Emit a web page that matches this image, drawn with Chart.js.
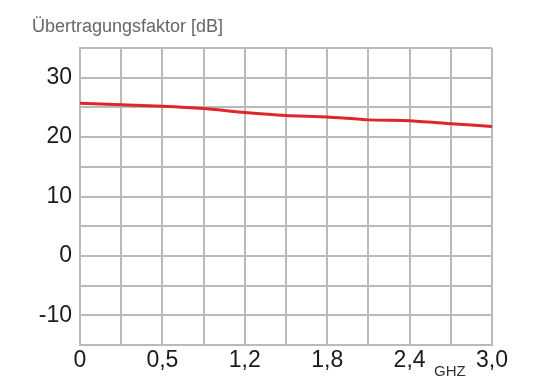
<!DOCTYPE html>
<html>
<head>
<meta charset="utf-8">
<script src="https://cdn.jsdelivr.net/npm/chart.js@4"></script>
<style>
  html, body { margin: 0; padding: 0; background: #fff; }
  #wrap { width: 550px; height: 378px; }
</style>
</head>
<body>
<div id="wrap"><canvas id="chart" width="550" height="378"></canvas></div>
<script>
// Frequenz in GHz (Gitter alle 0,3 GHz)
var freqGHz = [0, 0.3, 0.6, 0.9, 1.2, 1.5, 1.8, 2.1, 2.4, 2.7, 3.0];
// Übertragungsfaktor in dB
var gainDb = [25.7, 25.45, 25.2, 24.8, 24.15, 23.65, 23.4, 22.9, 22.75, 22.25, 21.8];
// Beschriftung der x-Achse (wie im Original)
var xTickValues = [0, 0.6, 1.2, 1.8, 2.4, 3.0];
var xTickLabels = ['0', '0,5', '1,2', '1,8', '2,4', '3,0'];
// Gitterlinien und Beschriftung der y-Achse
var yGridValues = [-15, -10, -5, 0, 5, 10, 15, 20, 25, 30, 35];
var yTickLabels = [30, 20, 10, 0, -10];

var gridColor = '#bababa';
var fontFamily = '"Liberation Sans", Arial, sans-serif';

// Kleiner Text "GHZ" unter der x-Achse
var unitLabel = {
  id: 'unitLabel',
  afterDraw: function(chart) {
    var ctx = chart.ctx;
    var x = chart.scales.x;
    ctx.save();
    ctx.font = '15px ' + fontFamily;
    ctx.fillStyle = '#333';
    ctx.textAlign = 'center';
    ctx.textBaseline = 'alphabetic';
    ctx.fillText('GHZ', (x.getPixelForValue(2.4) + x.getPixelForValue(3.0)) / 2 - 1, 376);
    ctx.restore();
  }
};

var points = freqGHz.map(function(f, i) { return { x: f, y: gainDb[i] }; });

new Chart(document.getElementById('chart'), {
  type: 'line',
  data: {
    datasets: [{
      label: 'Übertragungsfaktor',
      data: points,
      borderColor: '#e0252b',
      borderWidth: 3,
      pointRadius: 0,
      fill: false,
      tension: 0.2
    }]
  },
  options: {
    responsive: false,
    animation: false,
    layout: { padding: { left: 32, right: 58, top: 0, bottom: 0 } },
    plugins: {
      legend: { display: false },
      tooltip: { enabled: false },
      title: {
        display: true,
        text: 'Übertragungsfaktor [dB]',
        align: 'start',
        color: '#666',
        font: { family: fontFamily, size: 18, weight: 'normal', lineHeight: 1.2 },
        padding: { top: 16, bottom: 10.4 }
      }
    },
    scales: {
      x: {
        type: 'linear',
        min: 0,
        max: 3.0,
        afterBuildTicks: function(scale) {
          scale.ticks = freqGHz.map(function(v) { return { value: v }; });
        },
        afterFit: function(scale) { scale.height = 33; },
        grid: { color: gridColor, lineWidth: 2, drawTicks: false },
        border: { color: gridColor, width: 2 },
        ticks: {
          color: '#1a1a1a',
          font: { family: fontFamily, size: 23 },
          padding: 2,
          maxRotation: 0,
          autoSkip: false,
          callback: function(v) {
            for (var i = 0; i < xTickValues.length; i++) {
              if (Math.abs(xTickValues[i] - v) < 0.001) return xTickLabels[i];
            }
            return '';
          }
        }
      },
      y: {
        min: -15,
        max: 35,
        afterBuildTicks: function(scale) {
          scale.ticks = yGridValues.map(function(v) { return { value: v }; });
        },
        afterFit: function(scale) { scale.width = 48; },
        grid: { color: gridColor, lineWidth: 2, drawTicks: false },
        border: { color: gridColor, width: 2 },
        ticks: {
          color: '#1a1a1a',
          font: { family: fontFamily, size: 23 },
          padding: 8,
          autoSkip: false,
          callback: function(v) {
            return yTickLabels.indexOf(v) >= 0 ? String(v) : '';
          }
        }
      }
    }
  },
  plugins: [unitLabel]
});
</script>
</body>
</html>
